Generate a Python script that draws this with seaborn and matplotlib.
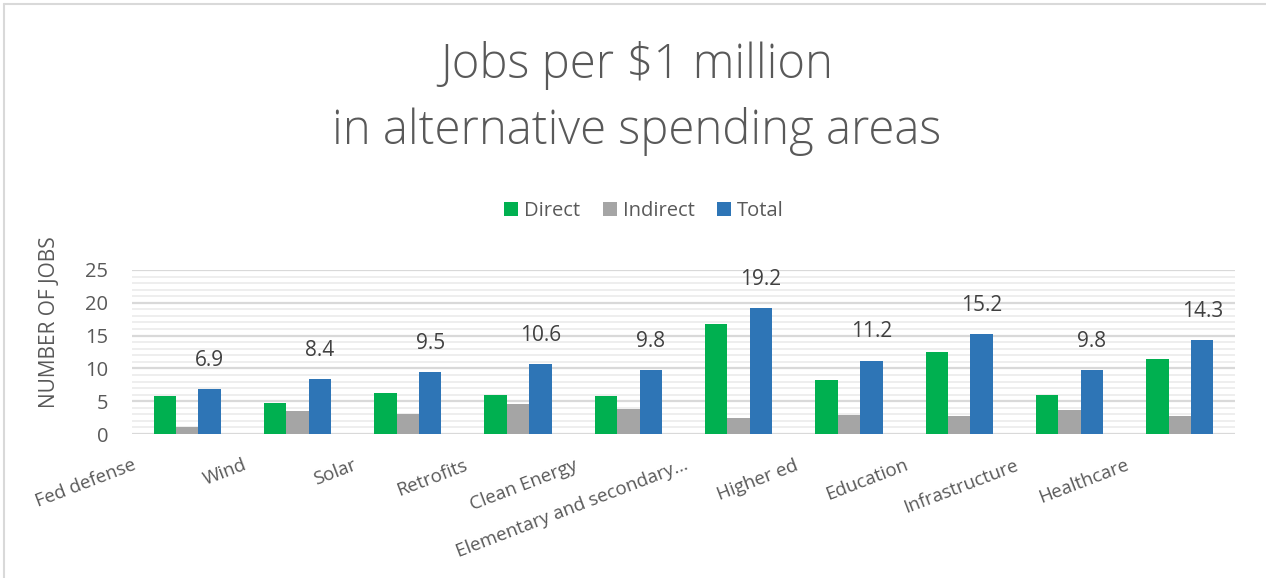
import matplotlib
matplotlib.use("Agg")
import matplotlib.pyplot as plt
import matplotlib.transforms as mtransforms
from matplotlib.patches import Patch
from matplotlib.lines import Line2D
from matplotlib.ticker import MultipleLocator
import seaborn as sns
import pandas as pd

categories = ["Fed defense", "Wind", "Solar", "Retrofits", "Clean Energy",
              "Elementary and secondary\u2026", "Higher ed", "Education",
              "Infrastructure", "Healthcare"]
direct = [5.8, 4.75, 6.3, 6.0, 5.8, 16.7, 8.3, 12.45, 6.0, 11.4]
indirect = [1.0, 3.45, 3.0, 4.55, 3.85, 2.5, 2.85, 2.7, 3.7, 2.7]
total = [6.9, 8.4, 9.5, 10.6, 9.8, 19.2, 11.2, 15.2, 9.8, 14.3]
series_names = ["Direct", "Indirect", "Total"]
series_colors = ["#00B050", "#A5A5A5", "#2E75B6"]
yticks = [0, 5, 10, 15, 20, 25]

rows = []
for name, vals in zip(series_names, [direct, indirect, total]):
    for c, v in zip(categories, vals):
        rows.append({"category": c, "series": name, "value": v})
df = pd.DataFrame(rows)

sns.set_theme(style="white")
plt.rcParams["font.family"] = ["Open Sans", "DejaVu Sans"]
text_col = "#595959"

fig = plt.figure(figsize=(12.66, 5.78), dpi=100)
W, H = 1266, 578
ax = fig.add_axes([132 / W, 1 - 434 / H, (1235 - 132) / W, (434 - 270) / H])

sns.barplot(data=df, x="category", y="value", hue="series", order=categories,
            hue_order=series_names, palette=series_colors, width=0.61,
            saturation=1, linewidth=0, errorbar=None, legend=False, ax=ax)

ax.set_ylim(0, 25)
ax.set_xlim(-0.5, len(categories) - 0.5)
ax.set_yticks(yticks)
ax.set_yticklabels([str(t) for t in yticks])
ax.yaxis.set_minor_locator(MultipleLocator(1))
ax.grid(axis="y", which="major", color="#D9D9D9", linewidth=1.6, zorder=0)
ax.grid(axis="y", which="minor", color="#EBEBEB", linewidth=1.2, zorder=0)
ax.set_axisbelow(True)
for s in ax.spines.values():
    s.set_visible(False)
ax.tick_params(axis="both", which="both", length=0)
ax.tick_params(axis="y", pad=17, labelsize=14.5, labelcolor=text_col)
ax.tick_params(axis="x", pad=16, labelsize=13.5, labelcolor=text_col)
ax.set_xlabel("")
ax.set_ylabel("")

ax.set_xticks(range(len(categories)))
ax.set_xticklabels(categories, rotation=21, ha="right", va="top",
                   rotation_mode="anchor")
offset = mtransforms.ScaledTranslation(-0.55, 0, fig.dpi_scale_trans)
for lab in ax.get_xticklabels():
    lab.set_transform(lab.get_transform() + offset)

ax.bar_label(ax.containers[2], labels=[f"{v:.1f}" for v in total],
             padding=13, fontsize=15, color="#404040")

fig.text(50 / W, 1 - 322 / H, "NUMBER OF JOBS", rotation=90, ha="center",
         va="center", fontsize=15, color=text_col)

fig.text(637 / W, 1 - 66 / H, "Jobs per $1 million", ha="center",
         va="center", fontsize=34, color=text_col, fontweight="light")
fig.text(637 / W, 1 - 131 / H, "in alternative spending areas", ha="center",
         va="center", fontsize=34, color=text_col, fontweight="light")

handles = [Patch(facecolor=c, edgecolor="none", label=n)
           for n, c in zip(series_names, series_colors)]
fig.legend(handles=handles, loc="center", bbox_to_anchor=(644 / W, 1 - 211 / H),
           ncol=3, frameon=False, fontsize=14.5, handlelength=0.7,
           handleheight=0.7, handletextpad=0.3, columnspacing=1.1,
           labelcolor=text_col)

fig.add_artist(Line2D([4 / W, 1], [1 - 4 / H, 1 - 4 / H], color="#D9D9D9",
                      linewidth=1.5, transform=fig.transFigure))
fig.add_artist(Line2D([4 / W, 4 / W], [0, 1 - 4 / H], color="#D9D9D9",
                      linewidth=1.5, transform=fig.transFigure))

fig.savefig("out.png", dpi=100)
